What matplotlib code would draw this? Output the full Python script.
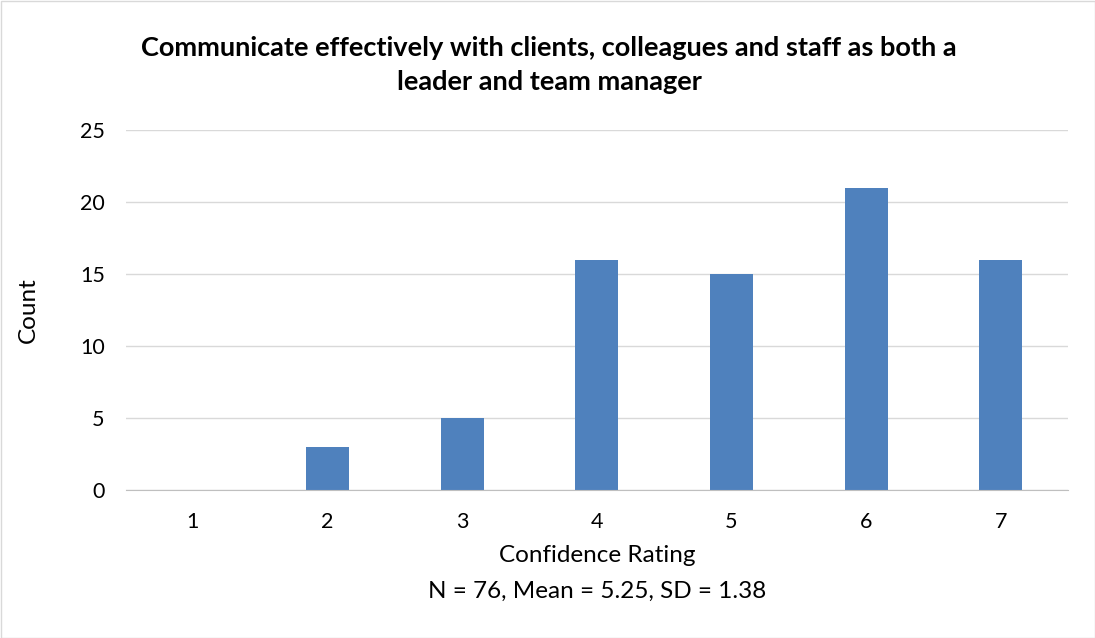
import matplotlib
matplotlib.use("Agg")
import matplotlib.pyplot as plt
from matplotlib.patches import Rectangle

categories = ["1", "2", "3", "4", "5", "6", "7"]
counts = [0, 3, 5, 16, 15, 21, 16]
y_ticks = [0, 5, 10, 15, 20, 25]
title = "Communicate effectively with clients, colleagues and staff as both a\nleader and team manager"
x_label = "Confidence Rating"
sub_label = "N = 76, Mean = 5.25, SD = 1.38"
y_label = "Count"

plt.rcParams['font.family'] = ['Lato', 'DejaVu Sans']

W, H = 1095, 638
fig = plt.figure(figsize=(W / 100, H / 100), dpi=100)
ax = fig.add_axes([125.6 / W, 1 - 490 / H, (1068 - 125.6) / W, (490 - 130) / H])

x = list(range(len(categories)))
ax.bar(x, counts, width=0.32, color="#4F81BD", zorder=3)
ax.set_xlim(-0.5, len(categories) - 0.5)
ax.set_ylim(0, 25)
ax.set_yticks(y_ticks)
ax.set_xticks(x)
ax.set_xticklabels(categories)
ax.tick_params(axis='both', length=0, labelsize=15.5, colors="#000000")
ax.tick_params(axis='x', pad=16)
ax.tick_params(axis='y', pad=15)
ax.yaxis.grid(True, color="#D9D9D9", linewidth=1, zorder=0)
for s in ["left", "right", "top"]:
    ax.spines[s].set_visible(False)
ax.spines["bottom"].set_color("#BFBFBF")
ax.spines["bottom"].set_zorder(4)

fig.text(549 / W, 1 - 65 / H, title, ha="center", va="center", fontsize=19.5,
         fontweight="bold", color="#000000", linespacing=1.45)
fig.text(597 / W, 1 - 556 / H, x_label, ha="center", va="center", fontsize=17.5, color="#000000")
fig.text(597 / W, 1 - 591 / H, sub_label, ha="center", va="center", fontsize=17.5, color="#000000")
fig.text(28 / W, 1 - 310 / H, y_label, ha="center", va="center", rotation=90, fontsize=17.5, color="#000000")

fig.patches.append(Rectangle((0.5 / W, 0.5 / H), 1 - 1 / W, 1 - 1 / H, transform=fig.transFigure,
                             fill=False, edgecolor="#D9D9D9", linewidth=1))

fig.savefig("out.png", dpi=100)
